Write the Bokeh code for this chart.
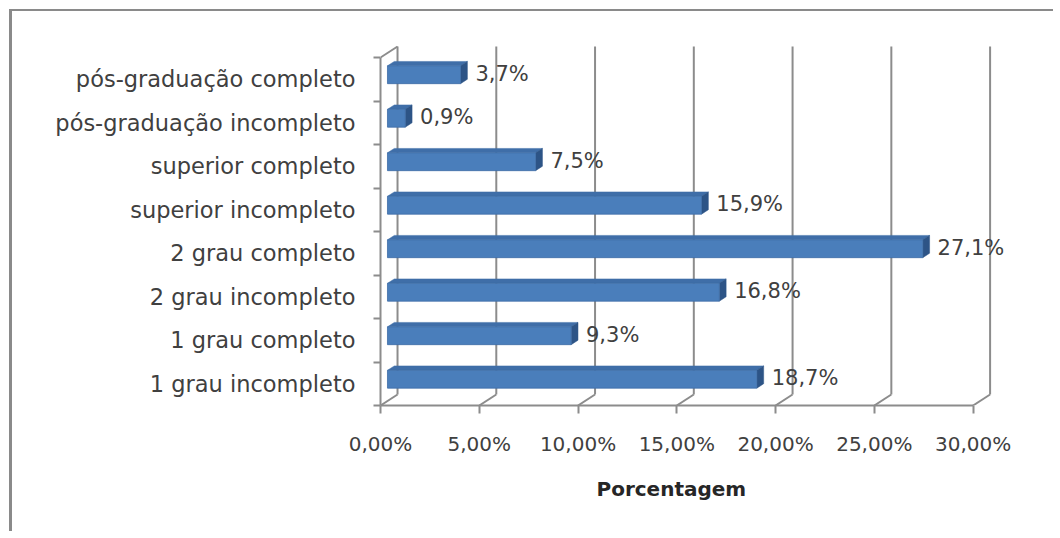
from bokeh.plotting import figure
from bokeh.models import FixedTicker, Range1d, Label, Title
from bokeh.embed import file_html
from bokeh.resources import INLINE

# ---------------- data ----------------
categories = [
    "1 grau incompleto",
    "1 grau completo",
    "2 grau incompleto",
    "2 grau completo",
    "superior incompleto",
    "superior completo",
    "pós-graduação incompleto",
    "pós-graduação completo",
]
percent = [18.7, 9.3, 16.8, 27.1, 15.9, 7.5, 0.9, 3.7]
value_labels = ["18,7%", "9,3%", "16,8%", "27,1%", "15,9%", "7,5%", "0,9%", "3,7%"]
x_ticks = [0, 5, 10, 15, 20, 25, 30]
x_tick_labels = ["0,00%", "5,00%", "10,00%", "15,00%", "20,00%", "25,00%", "30,00%"]
x_axis_title = "Porcentagem"

# ---------------- style / geometry constants ----------------
FONT = "DejaVu Sans"
TEXT = "#404040"
GRID = "#8c8c8c"
FRONT = "#4a7ebb"
TOP = "#3f6ea8"
SIDE = "#2d5486"
DX = 0.862   # depth offset along x (percent units)
DY = 0.253   # depth offset along y (category units)
F = 0.41     # depth position of bar front face
T = 0.40     # bar thickness in depth
H = 0.41     # bar height (category units)
X_MAX = 32.3 # frame extent, leaves room for the largest value label

n = len(categories)
idx = list(range(n))

p = figure(
    width=1044, height=522,
    x_range=Range1d(0, X_MAX), y_range=Range1d(-0.5, n - 0.5 + 0.276),
    output_backend="svg", toolbar_location=None,
    min_border_left=368, min_border_right=38,
    min_border_top=34, min_border_bottom=128,
    background_fill_color="white", border_fill_color="white",
)
p.styles = {
    "margin-left": "9px", "margin-top": "9px",
    "border-left": "3px solid #8a8a8a", "border-top": "2px solid #8a8a8a",
}
p.outline_line_color = None
p.grid.visible = False

y_lo, y_hi = -0.5, n - 0.5

# back wall / grid lines (offset by depth)
p.segment(x0=[t + DX for t in x_ticks], y0=[y_lo + DY] * len(x_ticks),
          x1=[t + DX for t in x_ticks], y1=[y_hi + DY] * len(x_ticks),
          line_color=GRID, line_width=2)
# floor diagonals
p.segment(x0=x_ticks, y0=[y_lo] * len(x_ticks),
          x1=[t + DX for t in x_ticks], y1=[y_lo + DY] * len(x_ticks),
          line_color=GRID, line_width=2)
# top-left wall diagonal
p.segment(x0=[x_ticks[0]], y0=[y_hi], x1=[x_ticks[0] + DX], y1=[y_hi + DY],
          line_color=GRID, line_width=2)

# ---------------- 3D bars ----------------
left = F * DX
rights = [v + F * DX for v in percent]
cy = [i + F * DY for i in idx]
bots = [c - H / 2 for c in cy]
tops = [c + H / 2 for c in cy]

top_xs = [[left, left + T * DX, r + T * DX, r] for r in rights]
top_ys = [[t, t + T * DY, t + T * DY, t] for t in tops]
side_xs = [[r, r, r + T * DX, r + T * DX] for r in rights]
side_ys = [[b, t, t + T * DY, b + T * DY] for b, t in zip(bots, tops)]

p.patches(xs=top_xs, ys=top_ys, fill_color=TOP, line_color=TOP, line_width=0.5)
p.patches(xs=side_xs, ys=side_ys, fill_color=SIDE, line_color=SIDE, line_width=0.5)
p.quad(left=[left] * n, right=rights, bottom=bots, top=tops,
       fill_color=FRONT, line_color="#3d6ca6", line_width=0.8)

# value labels
for r, c, t in zip(rights, cy, value_labels):
    p.add_layout(Label(x=r + T * DX, y=c, text=t, x_offset=8, y_offset=1,
                       text_font=FONT, text_font_size="21px", text_color=TEXT,
                       text_baseline="middle", text_align="left"))

# ---------------- axes ----------------
xa = p.xaxis[0]
xa.ticker = FixedTicker(ticks=x_ticks, minor_ticks=[])
xa.major_label_overrides = {t: l for t, l in zip(x_ticks, x_tick_labels)}
xa.bounds = (x_ticks[0], x_ticks[-1])
xa.axis_line_color = GRID
xa.axis_line_width = 2
xa.major_tick_line_color = GRID
xa.major_tick_line_width = 2
xa.major_tick_out = 8
xa.major_tick_in = 0
xa.minor_tick_line_color = None
xa.major_label_text_font = FONT
xa.major_label_text_font_size = "20px"
xa.major_label_text_color = TEXT
xa.major_label_standoff = 18

# axis title, centred under the 0–30 % span (not under the wider frame)
p.add_layout(Title(text=x_axis_title, align="left", offset=216,
                   text_font=FONT, text_font_style="bold", text_font_size="20px",
                   text_color="#262626", standoff=32), "below")

ya = p.yaxis[0]
ya.ticker = FixedTicker(ticks=idx, minor_ticks=[i - 0.5 for i in range(n + 1)])
ya.major_label_overrides = {i: c for i, c in zip(idx, categories)}
ya.bounds = (y_lo, y_hi)
ya.axis_line_color = GRID
ya.axis_line_width = 2
ya.major_tick_line_color = None
ya.major_tick_out = 0
ya.major_tick_in = 0
ya.minor_tick_line_color = GRID
ya.minor_tick_line_width = 2
ya.minor_tick_out = 7
ya.minor_tick_in = 0
ya.major_label_text_font = FONT
ya.major_label_text_font_size = "22.5px"
ya.major_label_text_color = TEXT
ya.major_label_standoff = 18

open("out.html", "w").write(file_html(p, INLINE))
